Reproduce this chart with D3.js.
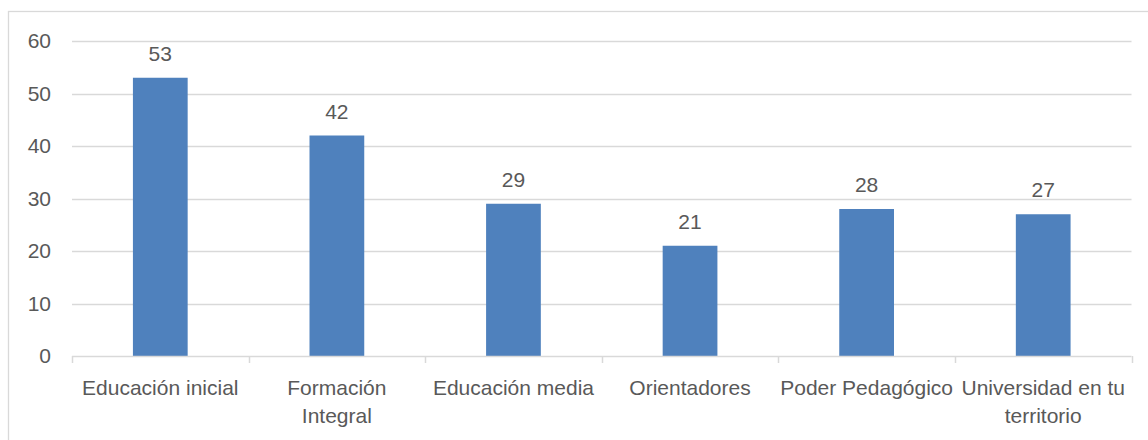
<!DOCTYPE html>
<html>
<head>
<meta charset="utf-8">
<script src="https://cdn.jsdelivr.net/npm/d3@7.9.0/dist/d3.min.js"></script>
<style>
  html, body { margin: 0; padding: 0; background: #fff; }
  svg { display: block; font-family: "Liberation Sans", Arial, sans-serif; }
</style>
</head>
<body>
<svg id="chart"></svg>
<script>
// Data
const categories = ['Educación inicial', 'Formación Integral', 'Educación media', 'Orientadores', 'Poder Pedagógico', 'Universidad en tu territorio'];
const categoryLines = [['Educación inicial'], ['Formación', 'Integral'], ['Educación media'], ['Orientadores'], ['Poder Pedagógico'], ['Universidad en tu', 'territorio']];
const values = [53, 42, 29, 21, 28, 27];
const yTicks = [0, 10, 20, 30, 40, 50, 60];

// Dimensions
const width = 1148;
const height = 440;
const marginTop = 41;
const marginRight = 16.5;
const marginBottom = 84;
const marginLeft = 72;

const textColor = '#595959';
const gridColor = '#d9d9d9';
const barColor = '#4f81bd';
const fontSize = 21;

const svg = d3.select('#chart')
  .attr('width', width)
  .attr('height', height)
  .attr('viewBox', [0, 0, width, height]);

// Chart border
svg.append('rect')
  .attr('x', 8.5)
  .attr('y', 11.5)
  .attr('width', width)
  .attr('height', height)
  .attr('fill', 'none')
  .attr('stroke', gridColor)
  .attr('stroke-width', 1.3);

const x = d3.scaleBand()
  .domain(categories)
  .range([marginLeft, width - marginRight])
  .padding(0);

const y = d3.scaleLinear()
  .domain([0, 60])
  .range([height - marginBottom, marginTop]);

// Gridlines
svg.append('g')
  .selectAll('line')
  .data(yTicks.filter(d => d !== 0))
  .join('line')
  .attr('x1', marginLeft)
  .attr('x2', width - marginRight)
  .attr('y1', d => Math.round(y(d)) + 0.5)
  .attr('y2', d => Math.round(y(d)) + 0.5)
  .attr('stroke', gridColor)
  .attr('stroke-width', 1.5);

// Y axis labels
svg.append('g')
  .attr('transform', `translate(${marginLeft - 21},0)`)
  .call(d3.axisLeft(y).tickValues(yTicks).tickSize(0).tickPadding(0))
  .call(g => g.select('.domain').remove())
  .call(g => g.selectAll('text')
    .attr('fill', textColor)
    .attr('font-size', fontSize)
    .attr('font-family', '"Liberation Sans", Arial, sans-serif'));

// Bars
const barWidth = x.bandwidth() * 0.31;
svg.append('g')
  .selectAll('rect')
  .data(values)
  .join('rect')
  .attr('x', (d, i) => x(categories[i]) + x.bandwidth() / 2 - barWidth / 2)
  .attr('y', d => y(d))
  .attr('width', barWidth)
  .attr('height', d => y(0) - y(d))
  .attr('fill', barColor);

// Data labels
svg.append('g')
  .selectAll('text')
  .data(values)
  .join('text')
  .attr('x', (d, i) => x(categories[i]) + x.bandwidth() / 2)
  .attr('y', d => y(d) - 17)
  .attr('text-anchor', 'middle')
  .attr('fill', textColor)
  .attr('font-size', fontSize)
  .text(d => d);

// X axis (baseline with category separators)
const xAxis = svg.append('g')
  .attr('transform', `translate(0,${y(0)})`);

xAxis.append('line')
  .attr('x1', marginLeft)
  .attr('x2', width - marginRight)
  .attr('y1', 0.5)
  .attr('y2', 0.5)
  .attr('stroke', gridColor)
  .attr('stroke-width', 1.5);

const edges = categories.map(c => x(c)).concat([width - marginRight]);
xAxis.selectAll('.sep')
  .data(edges)
  .join('line')
  .attr('class', 'sep')
  .attr('x1', d => Math.round(d) + 0.5)
  .attr('x2', d => Math.round(d) + 0.5)
  .attr('y1', 0)
  .attr('y2', 7)
  .attr('stroke', gridColor)
  .attr('stroke-width', 1.5);

// Category labels (wrapped as in original)
xAxis.selectAll('.cat')
  .data(categoryLines)
  .join('text')
  .attr('class', 'cat')
  .attr('x', (d, i) => x(categories[i]) + x.bandwidth() / 2)
  .attr('y', 39)
  .attr('text-anchor', 'middle')
  .attr('fill', textColor)
  .attr('font-size', fontSize)
  .each(function (lines) {
    const t = d3.select(this);
    lines.forEach((line, j) => {
      t.append('tspan')
        .attr('x', t.attr('x'))
        .attr('dy', j === 0 ? 0 : 28)
        .text(line);
    });
  });
</script>
</body>
</html>
